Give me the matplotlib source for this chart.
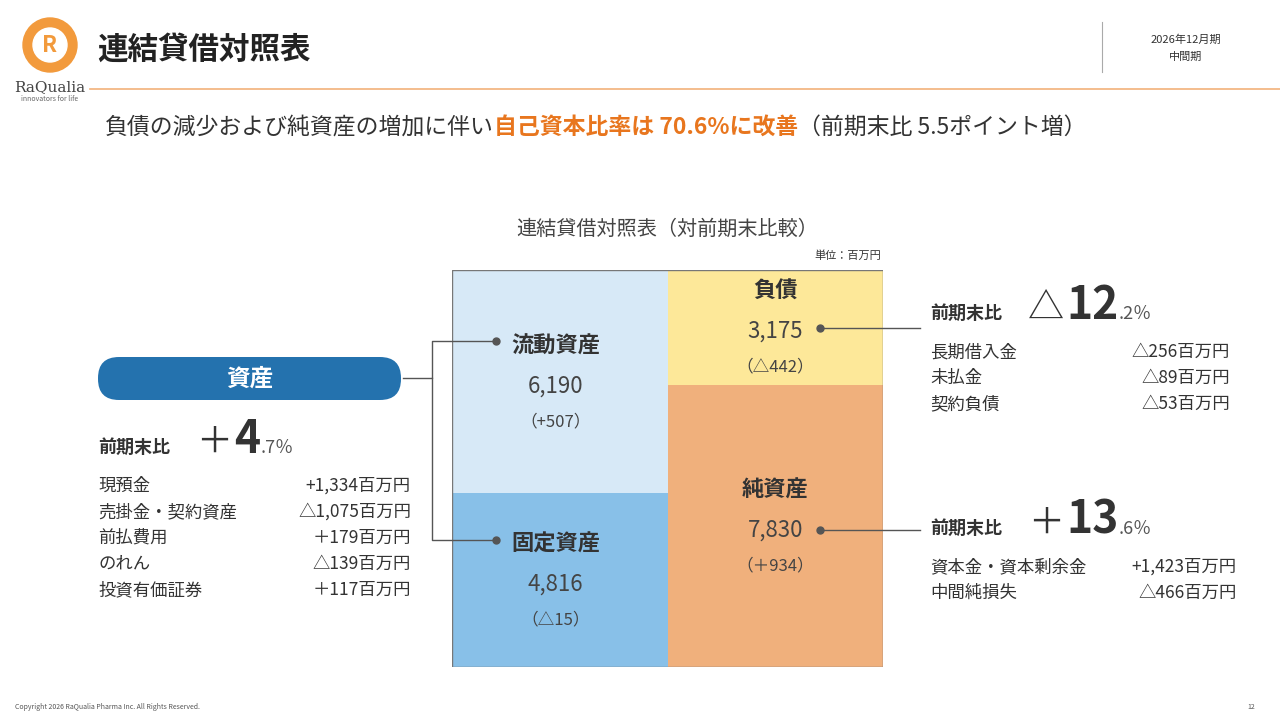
import matplotlib
matplotlib.use("Agg")
import matplotlib.pyplot as plt
from matplotlib.patches import FancyBboxPatch, Circle

plt.rcParams["font.family"] = ["Noto Sans CJK JP", "DejaVu Sans"]

# data (百万円)
left_names = ["流動資産", "固定資産"]
left_values = [6190, 4816]
left_changes = ["（+507）", "（△15）"]
left_colors = ["#d7e9f7", "#88c0e8"]
right_names = ["負債", "純資産"]
right_values = [3175, 7830]
right_changes = ["（△442）", "（＋934）"]
right_colors = ["#fde899", "#f0b07c"]

asset_items = ["現預金", "売掛金・契約資産", "前払費用", "のれん", "投資有価証券"]
asset_diffs = ["+1,334百万円", "△1,075百万円", "＋179百万円", "△139百万円", "＋117百万円"]
liab_items = ["長期借入金", "未払金", "契約負債"]
liab_diffs = ["△256百万円", "△89百万円", "△53百万円"]
eq_items = ["資本金・資本剰余金", "中間純損失"]
eq_diffs = ["+1,423百万円", "△466百万円"]

ORANGE = "#e8761e"
DARK = "#333333"

fig = plt.figure(figsize=(12.8, 7.2), dpi=100)

# balance sheet block
ax = fig.add_axes([452 / 1280, 1 - 667 / 720, 431 / 1280, 397 / 720])
total = sum(left_values)
ax.set_xlim(-0.5, 1.5)
ax.set_ylim(total, 0)
ax.axis("off")


def box_labels(x, mid, name, v, ch):
    for dy, s, kw in [(-36, name, dict(fontsize=16, fontweight="bold", color=DARK)),
                      (4, f"{v:,}", dict(fontsize=16, color="#444444")),
                      (40, ch, dict(fontsize=12, color="#444444"))]:
        ax.annotate(s, (x, mid), xytext=(0, -dy * 0.72), textcoords="offset points",
                    ha="center", va="center", **kw)


bottom = 0
for name, v, ch, c in zip(left_names, left_values, left_changes, left_colors):
    ax.bar(0, v, width=1, bottom=bottom, color=c, edgecolor="none")
    box_labels(-0.02, bottom + v / 2, name, v, ch)
    bottom += v
bottom = 0
for name, v, ch, c in zip(right_names, right_values, right_changes, right_colors):
    ax.bar(1, v, width=1, bottom=bottom, color=c, edgecolor="none")
    box_labels(1.0, bottom + v / 2, name, v, ch)
    bottom += v
ax.add_patch(plt.Rectangle((-0.5, 0), 2, total, fill=False, edgecolor="#777777", lw=1))

bg = fig.add_axes([0, 0, 1, 1])
bg.set_xlim(0, 1280)
bg.set_ylim(720, 0)
bg.axis("off")
bg.set_zorder(5)

fig.canvas.draw()
renderer = fig.canvas.get_renderer()


def seq_text(x, y, pieces):
    # pieces: list of (text, kwargs, dx_gap, dy)
    for s, kw, gap, dy in pieces:
        t = bg.text(x + gap, y + dy, s, ha="left", va="baseline", **kw)
        bb = t.get_window_extent(renderer)
        x = x + gap + bb.width


# header
bg.add_patch(Circle((50, 45), 27, color="#f29a3c"))
bg.add_patch(Circle((50, 45), 17, color="white"))
bg.text(50, 46, "R", ha="center", va="center", fontsize=16, color="#f29a3c", fontweight="bold")
bg.text(50, 87, "RaQualia", ha="center", va="center", fontsize=11, color="#444444", family="DejaVu Serif")
bg.text(50, 99, "innovators for life", ha="center", va="center", fontsize=5, color="#666666")
bg.text(97, 50, "連結貸借対照表", ha="left", va="center", fontsize=22, fontweight="bold", color="#222222")
bg.plot([90, 1280], [89, 89], color="#f2b27a", lw=1.2)
bg.plot([1102, 1102], [22, 72], color="#aaaaaa", lw=0.8)
bg.text(1186, 40, "2026年12月期", ha="center", va="center", fontsize=8, color="#333333")
bg.text(1186, 57, "中間期", ha="center", va="center", fontsize=8, color="#333333")

# subtitle
seq_text(105, 134, [("負債の減少および純資産の増加に伴い", dict(fontsize=16.5, color=DARK), 0, 0),
                    ("自己資本比率は 70.6%に改善", dict(fontsize=16.5, color=ORANGE, fontweight="bold"), 0, 0),
                    ("（前期末比 5.5ポイント増）", dict(fontsize=16.5, color=DARK), 0, 0)])

bg.text(667, 229, "連結貸借対照表（対前期末比較）", ha="center", va="center", fontsize=14.5, color="#444444")
bg.text(881, 256, "単位：百万円", ha="right", va="center", fontsize=8, color="#333333")

# connectors
lc = "#555555"
bg.plot([403, 432, 432, 496], [378, 378, 341, 341], color=lc, lw=1)
bg.plot([432, 432, 496], [378, 540, 540], color=lc, lw=1)
bg.plot([496], [341], "o", color=lc, ms=5)
bg.plot([496], [540], "o", color=lc, ms=5)
bg.plot([820, 920], [328, 328], color=lc, lw=1)
bg.plot([820], [328], "o", color=lc, ms=5)
bg.plot([820, 920], [530, 530], color=lc, lw=1)
bg.plot([820], [530], "o", color=lc, ms=5)

# 資産 pill
bg.add_patch(FancyBboxPatch((98, 357), 303, 43, boxstyle="round,pad=0,rounding_size=21",
                            facecolor="#2472ae", edgecolor="none"))
bg.text(250, 379, "資産", ha="center", va="center", fontsize=17, fontweight="bold", color="white")


def change_block(x, y, sign, big, small, items, diffs, xr, row=26):
    seq_text(x, y + 7, [("前期末比", dict(fontsize=13, fontweight="bold", color=DARK), 0, 0),
                        (sign, dict(fontsize=26, color=DARK), 26, 0),
                        (big, dict(fontsize=32, fontweight="bold", color=DARK), 2, 0),
                        (small, dict(fontsize=13, color="#555555"), 0, 0)])
    for i, (it, d) in enumerate(zip(items, diffs)):
        yy = y + 40 + i * row
        bg.text(x, yy, it, ha="left", va="center", fontsize=12.5, color=DARK)
        bg.text(xr, yy, d, ha="right", va="center", fontsize=12.5, color=DARK)


change_block(98, 446, "＋", "4", ".7％", asset_items, asset_diffs, 411)
change_block(930, 312, "△", "12", ".2％", liab_items, liab_diffs, 1230)
change_block(930, 527, "＋", "13", ".6％", eq_items, eq_diffs, 1237)

bg.text(15, 707, "Copyright 2026 RaQualia Pharma Inc. All Rights Reserved.", ha="left", va="center",
        fontsize=5, color="#555555")
bg.text(1255, 707, "12", ha="right", va="center", fontsize=5, color="#555555")

fig.savefig("out.png", dpi=100)
